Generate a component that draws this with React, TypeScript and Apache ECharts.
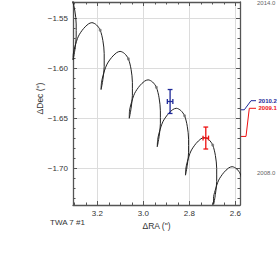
import React, { useEffect, useRef } from "react";
import * as echarts from "echarts";

// Background track (RA offset ″, Dec offset ″), 2008 → 2014
const trackRA = [
  2.5665, 2.5782, 2.5947, 2.6143, 2.6295, 2.6508, 2.6726, 2.6882, 2.6952,
  2.6948, 2.6870, 2.6813, 2.6813, 2.6870, 2.6987, 2.7152, 2.7348, 2.7500, 2.7713, 2.7931, 2.8087, 2.8157,
  2.8170, 2.8092, 2.8035, 2.8035, 2.8092, 2.8209, 2.8374, 2.8570, 2.8722, 2.8935, 2.9153, 2.9309, 2.9379,
  2.9396, 2.9318, 2.9261, 2.9261, 2.9318, 2.9435, 2.9600, 2.9796, 2.9948, 3.0161, 3.0379, 3.0535, 3.0605,
  3.0613, 3.0535, 3.0478, 3.0478, 3.0535, 3.0652, 3.0817, 3.1013, 3.1165, 3.1378, 3.1596, 3.1752, 3.1822,
  3.1839, 3.1761, 3.1704, 3.1704, 3.1761, 3.1878, 3.2043, 3.2239, 3.2391, 3.2604, 3.2822, 3.2978, 3.3048,
  3.3057, 3.2979, 3.2922, 3.2922, 3.2979, 3.3096, 3.3261,
];
const trackDec = [
  -1.7163, -1.7058, -1.7005, -1.6983, -1.6996, -1.7043, -1.7118, -1.7223, -1.7298,
  -1.7361, -1.7261, -1.7131, -1.7001, -1.6871, -1.6766, -1.6713, -1.6691, -1.6704, -1.6751, -1.6826, -1.6931, -1.7006,
  -1.7068, -1.6968, -1.6838, -1.6708, -1.6578, -1.6473, -1.6420, -1.6398, -1.6411, -1.6458, -1.6533, -1.6638, -1.6713,
  -1.6783, -1.6683, -1.6553, -1.6423, -1.6293, -1.6188, -1.6135, -1.6113, -1.6126, -1.6173, -1.6248, -1.6353, -1.6428,
  -1.6498, -1.6398, -1.6268, -1.6138, -1.6008, -1.5903, -1.5850, -1.5828, -1.5841, -1.5888, -1.5963, -1.6068, -1.6143,
  -1.6210, -1.6110, -1.5980, -1.5850, -1.5720, -1.5615, -1.5562, -1.5540, -1.5553, -1.5600, -1.5675, -1.5780, -1.5855,
  -1.5913, -1.5813, -1.5683, -1.5553, -1.5423, -1.5318, -1.5265,
];

// Year markers on the track
const yearLabels = ["2008.0", "2009.0", "2010.0", "2011.0", "2012.0", "2013.0", "2014.0"];
const yearRA = [2.5782, 2.6987, 2.8209, 2.9435, 3.0652, 3.1878, 3.3096];
const yearDec = [-1.7058, -1.6766, -1.6473, -1.6188, -1.5903, -1.5615, -1.5318];

// Observations
const obsEpochs = ["2009.1", "2010.2"];
const obsRA = [2.7287, 2.8839];
const obsDec = [-1.6696, -1.633];
const obsRAErr = [0.012, 0.012];
const obsDecErr = [0.011, 0.012];
const trackDecAtObs = [-1.668, -1.6413];
const obsColors = ["#ee1111", "#1f2a99"];

const xMin = 2.58;
const xMax = 3.306;
const yMin = -1.7367;
const yMax = -1.5333;

const FONT = "Liberation Sans, Arial, Helvetica, sans-serif";
const AXIS_COLOR = "#555";

export default function App() {
  const ref = useRef<HTMLDivElement>(null);

  useEffect(() => {
    if (!ref.current) return;
    const chart = echarts.init(ref.current, null, { renderer: "svg" });

    const axisCommon = {
      axisLine: { show: true, onZero: false, lineStyle: { color: AXIS_COLOR, width: 1.3 } },
      axisTick: { show: true, inside: true, length: 4, lineStyle: { color: AXIS_COLOR, width: 1 } },
      minorTick: { show: true, length: 2.5, lineStyle: { color: AXIS_COLOR, width: 1 } },
    };

    const xBase = {
      type: "value",
      min: xMin,
      max: xMax,
      inverse: true,
      splitNumber: 4,
      minInterval: 0.2,
      maxInterval: 0.2,
      ...axisCommon,
      minorTick: { ...axisCommon.minorTick, splitNumber: 4 },
    };
    const yBase = {
      type: "value",
      min: yMin,
      max: yMax,
      splitNumber: 4,
      minInterval: 0.05,
      maxInterval: 0.05,
      ...axisCommon,
      minorTick: { ...axisCommon.minorTick, splitNumber: 5 },
    };

    chart.setOption({
      animation: false,
      backgroundColor: "#ffffff",
      grid: { left: 73, right: 37, top: 2, bottom: 65, containLabel: false },
      xAxis: [
        {
          ...xBase,
          position: "bottom",
          name: "ΔRA (\")",
          nameLocation: "middle",
          nameGap: 12,
          nameTextStyle: { color: "#333", fontSize: 8.5, fontFamily: FONT },
          splitLine: { show: true, lineStyle: { color: "#dcdcdc", width: 1 } },
          axisLabel: {
            show: true,
            color: "#333",
            fontSize: 8,
            fontFamily: FONT,
            margin: 4,
            showMinLabel: false,
            showMaxLabel: false,
            formatter: (v: number) => v.toFixed(1),
          },
        },
        {
          ...xBase,
          position: "top",
          splitLine: { show: false },
          axisLabel: { show: false },
        },
      ],
      yAxis: [
        {
          ...yBase,
          position: "left",
          splitLine: { show: true, lineStyle: { color: "#dcdcdc", width: 1 } },
          axisLabel: {
            show: true,
            color: "#333",
            fontSize: 8,
            fontFamily: FONT,
            margin: 5,
            showMinLabel: false,
            showMaxLabel: false,
            formatter: (v: number) => (v < 0 ? "\u2212" : "") + Math.abs(v).toFixed(2),
          },
        },
        {
          ...yBase,
          position: "right",
          splitLine: { show: false },
          axisLabel: { show: false },
        },
      ],
      series: [
        {
          type: "line",
          xAxisIndex: 0,
          yAxisIndex: 0,
          data: trackRA.map((r, i) => [r, trackDec[i]]),
          showSymbol: false,
          smooth: 0.3,
          clip: true,
          lineStyle: { color: "#222", width: 1 },
          silent: true,
          z: 3,
        },
        {
          type: "scatter",
          xAxisIndex: 0,
          yAxisIndex: 0,
          data: yearRA.map((r, i) => [r, yearDec[i]]),
          symbolSize: 3,
          itemStyle: { color: "#777" },
          clip: true,
          silent: true,
          z: 4,
        },
        {
          type: "custom",
          xAxisIndex: 0,
          yAxisIndex: 0,
          data: obsRA.map((r, i) => [r, obsDec[i], obsRAErr[i], obsDecErr[i]]),
          encode: { x: 0, y: 1 },
          z: 5,
          renderItem: (params: any, api: any) => {
            const ra = api.value(0);
            const dec = api.value(1);
            const era = api.value(2);
            const edec = api.value(3);
            const c = api.coord([ra, dec]);
            const top = api.coord([ra, dec + edec]);
            const bot = api.coord([ra, dec - edec]);
            const lft = api.coord([ra + era, dec]);
            const rgt = api.coord([ra - era, dec]);
            const cap = 2.4;
            const style = { stroke: obsColors[params.dataIndex], lineWidth: 1.3, fill: "none" };
            const ln = (x1: number, y1: number, x2: number, y2: number) => ({
              type: "line",
              shape: { x1, y1, x2, y2 },
              style,
            });
            return {
              type: "group",
              children: [
                ln(c[0], top[1], c[0], bot[1]),
                ln(c[0] - cap, top[1], c[0] + cap, top[1]),
                ln(c[0] - cap, bot[1], c[0] + cap, bot[1]),
                ln(lft[0], c[1], rgt[0], c[1]),
                ln(lft[0], c[1] - cap, lft[0], c[1] + cap),
                ln(rgt[0], c[1] - cap, rgt[0], c[1] + cap),
              ],
            };
          },
        },
      ],
    });

    const px = (ra: number, dec: number) =>
      chart.convertToPixel({ xAxisIndex: 0, yAxisIndex: 0 }, [ra, dec]) as number[];

    const axisRight = px(xMin, yMin)[0];
    const labelX = 257.5;
    const labelYs = [108.3, 100.7];
    const bends = [
      [246, 249.3],
      [244.3, 251],
    ];

    const graphics: any[] = [];
    obsEpochs.forEach((ep, i) => {
      const yT = px(obsRA[i], trackDecAtObs[i])[1];
      graphics.push({
        type: "polyline",
        shape: {
          points: [
            [axisRight, yT],
            [bends[i][0], yT],
            [bends[i][1], labelYs[i]],
            [labelX - 1.5, labelYs[i]],
          ],
        },
        style: { stroke: obsColors[i], lineWidth: 1, fill: "none" },
      });
      graphics.push({
        type: "text",
        x: labelX + 1,
        y: labelYs[i],
        style: {
          text: ep,
          fill: obsColors[i],
          font: `bold 6px ${FONT}`,
          verticalAlign: "middle",
          align: "left",
        },
      });
    });
    [0, yearLabels.length - 1].forEach((k) => {
      const y = Math.max(3, px(yearRA[k], yearDec[k])[1] - 1.5);
      graphics.push({
        type: "text",
        x: labelX - 0.5,
        y,
        style: {
          text: yearLabels[k],
          fill: "#666",
          font: `6px ${FONT}`,
          verticalAlign: "middle",
          align: "left",
        },
      });
    });
    graphics.push({
      type: "text",
      x: 39.5,
      y: 98.5,
      rotation: Math.PI / 2,
      style: {
        text: "ΔDec (\")",
        fill: "#333",
        font: `8.5px ${FONT}`,
        align: "center",
        verticalAlign: "middle",
      },
    });
    graphics.push({
      type: "text",
      x: 50,
      y: 222.7,
      style: {
        text: "TWA 7 #1",
        fill: "#333",
        font: `8px ${FONT}`,
        align: "left",
        verticalAlign: "middle",
      },
    });

    chart.setOption({ graphic: graphics });

    return () => chart.dispose();
  }, []);

  return (
    <div
      ref={ref}
      style={{ position: "fixed", left: 0, top: 0, width: 277, height: 270, background: "#fff" }}
    />
  );
}
